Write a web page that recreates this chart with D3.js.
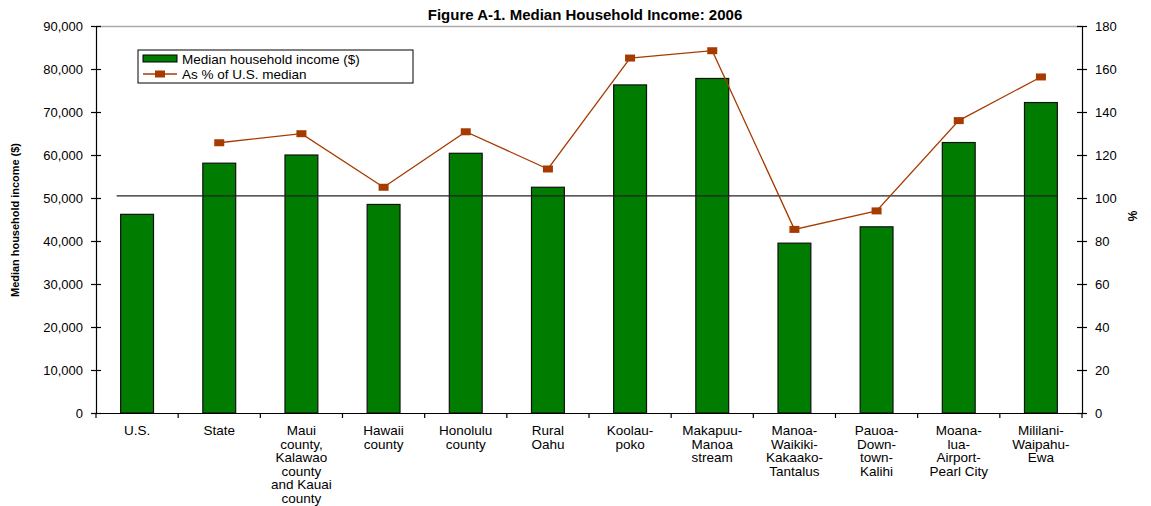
<!DOCTYPE html>
<meta charset="utf-8">
<style>
  body { margin: 0; background: #fff; }
  text { font-family: "Liberation Sans", Arial, sans-serif; }
</style>
<body>
<script src="https://d3js.org/d3.v7.min.js"></script>
<script>
  // data
  var areas = ["U.S.", "State", "Maui|county,|Kalawao|county|and Kauai|county", "Hawaii|county",
    "Honolulu|county", "Rural|Oahu", "Koolau-|poko", "Makapuu-|Manoa|stream",
    "Manoa-|Waikiki-|Kakaako-|Tantalus", "Pauoa-|Down-|town-|Kalihi", "Moana-|lua-|Airport-|Pearl City",
    "Mililani-|Waipahu-|Ewa"];
  var income = [46200, 58100, 60000, 48500, 60400, 52500, 76300, 77800, 39500, 43300, 62900, 72200];
  var pctOfUS = [null, 125.7, 129.9, 105, 130.8, 113.5, 165.1, 168.5, 85.4, 94, 136, 156.3];
  var leftTicks = [0, 10000, 20000, 30000, 40000, 50000, 60000, 70000, 80000, 90000];
  var rightTicks = [0, 20, 40, 60, 80, 100, 120, 140, 160, 180];
  var refPct = 101; // horizontal reference line

  var svg = d3.select("body").append("svg")
      .attr("width", 1151)
      .attr("height", 506);

  var margin = {top: 26, right: 69, bottom: 93, left: 96},
      width = 1151 - margin.left - margin.right,
      height = 506 - margin.top - margin.bottom,
      g = svg.append("g").attr("transform", "translate(" + margin.left + "," + margin.top + ")");

  var x = d3.scaleBand().domain(d3.range(areas.length)).range([0, width]).paddingInner(0.6).paddingOuter(0.3);
  var xb = d3.scaleBand().domain(d3.range(areas.length)).range([0, width]);
  var yL = d3.scaleLinear().domain([0, 90000]).range([height, 0]);
  var yR = d3.scaleLinear().domain([0, 180]).range([height, 0]);

  // title
  svg.append("text")
      .attr("x", 585).attr("y", 20)
      .attr("text-anchor", "middle")
      .style("font-size", "15px").style("font-weight", "bold")
      .text("Figure A-1. Median Household Income: 2006");

  // top border of plot area
  g.append("line").attr("x1", 0).attr("x2", width).attr("y1", 0.5).attr("y2", 0.5)
      .attr("stroke", "#aaa").attr("stroke-width", 1.5);

  // bars
  g.selectAll(".bar").data(income).enter().append("rect")
      .attr("class", "bar")
      .attr("x", function(d, i) { return x(i); })
      .attr("width", x.bandwidth())
      .attr("y", function(d) { return yL(d); })
      .attr("height", function(d) { return height - yL(d); })
      .attr("fill", "#007c00")
      .attr("stroke", "#111").attr("stroke-width", 1.2);

  // reference line
  g.append("line")
      .attr("x1", x(0) - 4).attr("x2", x(areas.length - 1) + x.bandwidth())
      .attr("y1", yR(refPct)).attr("y2", yR(refPct))
      .attr("stroke", "#222").attr("stroke-width", 1.3);

  // % line
  var pts = pctOfUS.map(function(d, i) { return {i: i, v: d}; }).filter(function(d) { return d.v != null; });
  var line = d3.line()
      .x(function(d) { return xb(d.i) + xb.bandwidth() / 2; })
      .y(function(d) { return yR(d.v); });
  g.append("path").datum(pts)
      .attr("d", line)
      .attr("fill", "none").attr("stroke", "#a63b00").attr("stroke-width", 1.3);
  g.selectAll(".pt").data(pts).enter().append("rect")
      .attr("x", function(d) { return xb(d.i) + xb.bandwidth() / 2 - 5; })
      .attr("y", function(d) { return yR(d.v) - 3.5; })
      .attr("width", 10).attr("height", 7)
      .attr("fill", "#a63b00");

  // axes
  var axL = g.append("g")
      .call(d3.axisLeft(yL).tickValues(leftTicks).tickFormat(d3.format(",")).tickSizeInner(5).tickSizeOuter(0).tickPadding(8));
  axL.selectAll(".tick line").attr("x2", -5).attr("x1", 5);
  var axR = g.append("g").attr("transform", "translate(" + width + ",0)")
      .call(d3.axisRight(yR).tickValues(rightTicks).tickSizeInner(5).tickSizeOuter(0).tickPadding(8));
  axR.selectAll(".tick line").attr("x1", -5).attr("x2", 5);
  var axB = g.append("g").attr("transform", "translate(0," + height + ")")
      .call(d3.axisBottom(xb).tickValues([]).tickSizeOuter(0));
  axB.selectAll(".bt").data(d3.range(areas.length + 1)).enter().append("line")
      .attr("x1", function(d) { return d * xb.bandwidth(); })
      .attr("x2", function(d) { return d * xb.bandwidth(); })
      .attr("y1", 0).attr("y2", 5).attr("stroke", "#000");
  [axL, axR, axB].forEach(function(a) {
    a.selectAll("path, line").attr("stroke", "#000").attr("stroke-width", 1.2);
    a.selectAll("text").style("font-size", "13px").attr("fill", "#000");
  });

  // category labels
  var lab = g.append("g").selectAll(".xl").data(areas).enter().append("text")
      .attr("text-anchor", "middle")
      .attr("x", function(d, i) { return xb(i) + xb.bandwidth() / 2; })
      .attr("y", height + 22)
      .style("font-size", "13.5px");
  lab.selectAll("tspan").data(function(d) { return d.split("|"); }).enter().append("tspan")
      .attr("x", function() { return this.parentNode.getAttribute("x"); })
      .attr("dy", function(d, i) { return i ? 13.5 : 0; })
      .text(function(d) { return d; });

  // axis titles
  svg.append("text")
      .attr("transform", "translate(19,220) rotate(-90)")
      .attr("text-anchor", "middle")
      .attr("textLength", 154).attr("lengthAdjust", "spacingAndGlyphs")
      .style("font-size", "11px").style("font-weight", "bold")
      .text("Median household income ($)");
  svg.append("text")
      .attr("transform", "translate(1137,216) rotate(-90)")
      .attr("text-anchor", "middle")
      .style("font-size", "12px").style("font-weight", "bold")
      .text("%");

  // legend
  var leg = svg.append("g").attr("transform", "translate(138,50)");
  leg.append("rect").attr("width", 275).attr("height", 33)
      .attr("fill", "#fff").attr("stroke", "#000").attr("stroke-width", 1);
  leg.append("rect").attr("x", 5).attr("y", 5).attr("width", 34).attr("height", 7)
      .attr("fill", "#007c00").attr("stroke", "#000").attr("stroke-width", 1);
  leg.append("text").attr("x", 44).attr("y", 13.5).style("font-size", "13.5px").text("Median household income ($)");
  leg.append("line").attr("x1", 5).attr("x2", 39).attr("y1", 24).attr("y2", 24)
      .attr("stroke", "#a63b00").attr("stroke-width", 1.3);
  leg.append("rect").attr("x", 17).attr("y", 20.5).attr("width", 10).attr("height", 7).attr("fill", "#a63b00");
  leg.append("text").attr("x", 44).attr("y", 29).style("font-size", "13.5px").text("As % of U.S. median");
</script>
</body>
